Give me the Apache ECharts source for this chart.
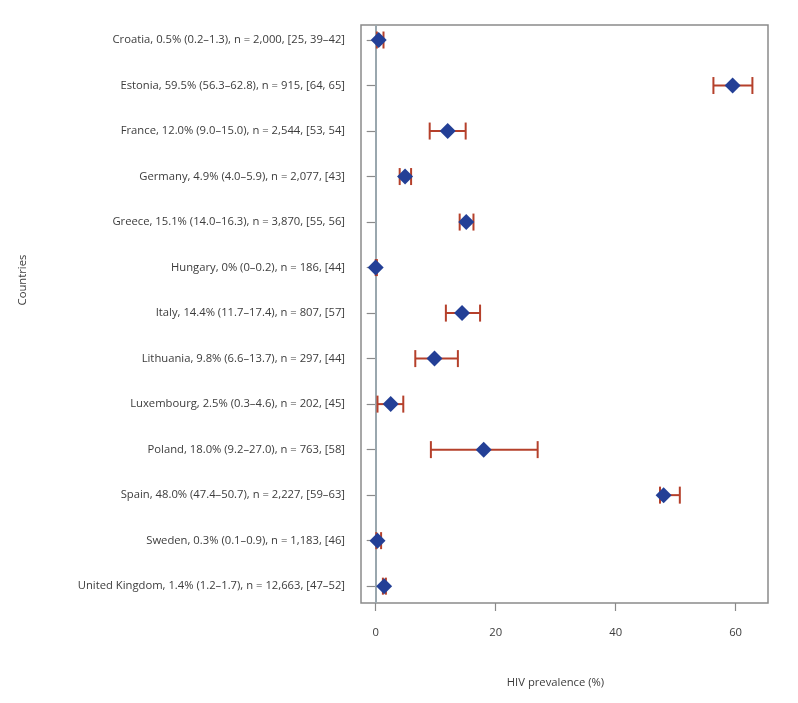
<!DOCTYPE html>
<html>
<head>
<meta charset="utf-8">
<script src="https://cdn.jsdelivr.net/npm/echarts@6/dist/echarts.min.js"></script>
<style>html,body{margin:0;padding:0;background:#fff;}#chart{width:798px;height:703px;}</style>
</head>
<body>
<div id="chart"></div>
<script>
const rowLabels = [
  "Croatia, 0.5% (0.2–1.3), n = 2,000, [25, 39–42]",
  "Estonia, 59.5% (56.3–62.8), n = 915, [64, 65]",
  "France, 12.0% (9.0–15.0), n = 2,544, [53, 54]",
  "Germany, 4.9% (4.0–5.9), n = 2,077, [43]",
  "Greece, 15.1% (14.0–16.3), n = 3,870, [55, 56]",
  "Hungary, 0% (0–0.2), n = 186, [44]",
  "Italy, 14.4% (11.7–17.4), n = 807, [57]",
  "Lithuania, 9.8% (6.6–13.7), n = 297, [44]",
  "Luxembourg, 2.5% (0.3–4.6), n = 202, [45]",
  "Poland, 18.0% (9.2–27.0), n = 763, [58]",
  "Spain, 48.0% (47.4–50.7), n = 2,227, [59–63]",
  "Sweden, 0.3% (0.1–0.9), n = 1,183, [46]",
  "United Kingdom, 1.4% (1.2–1.7), n = 12,663, [47–52]"
];
const prevalence = [0.5, 59.5, 12.0, 4.9, 15.1, 0, 14.4, 9.8, 2.5, 18.0, 48.0, 0.3, 1.4];
const ciLow =      [0.2, 56.3, 9.0, 4.0, 14.0, 0, 11.7, 6.6, 0.3, 9.2, 47.4, 0.1, 1.2];
const ciHigh =     [1.3, 62.8, 15.0, 5.9, 16.3, 0.2, 17.4, 13.7, 4.6, 27.0, 50.7, 0.9, 1.7];
const xTicks = [0, 20, 40, 60];
const rows = rowLabels.map((_, i) => i + 1);

const textColor = '#3c3c3c';
const font = "'Open Sans', sans-serif";

const chart = echarts.init(document.getElementById('chart'), null, {renderer: 'canvas'});
chart.setOption({
  animation: false,
  backgroundColor: '#fff',
  grid: {left: 361, right: 30, top: 25, bottom: 100, show: true, borderColor: '#8a8a8a', borderWidth: 1.5, backgroundColor: 'transparent'},
  xAxis: {
    type: 'value', min: -2.45, max: 65.4,
    name: 'HIV prevalence (%)', nameLocation: 'middle', nameGap: 74,
    nameTextStyle: {color: textColor, fontSize: 11.25, fontFamily: font, padding: [0, 18, 0, 0]},
    axisLine: {show: false},
    splitLine: {show: false},
    axisTick: {show: true, length: 8, customValues: xTicks, lineStyle: {color: '#8a8a8a', width: 1.2}},
    axisLabel: {customValues: xTicks, margin: 24, color: textColor, fontSize: 11.25, fontFamily: font}
  },
  yAxis: {
    type: 'value', inverse: true, min: 0.67, max: 13.37,
    name: 'Countries', nameLocation: 'middle', nameRotate: 90, nameGap: 333,
    nameTextStyle: {color: textColor, fontSize: 11.25, fontFamily: font, padding: [0, 0, 0, 68]},
    axisLine: {show: false},
    splitLine: {show: false},
    axisTick: {show: true, length: 9, customValues: rows, lineStyle: {color: '#8a8a8a', width: 1.2}},
    axisLabel: {customValues: rows, margin: 16, color: textColor, fontSize: 11.25, fontFamily: font,
      formatter: v => rowLabels[Math.round(v) - 1] || ''}
  },
  series: [
    {
      type: 'custom',
      encode: {x: [0, 1], y: 2},
      data: rows.map((r, i) => [ciLow[i], ciHigh[i], r]),
      z: 2,
      renderItem: function (params, api) {
        const y = api.value(2);
        const a = api.coord([api.value(0), y]);
        const b = api.coord([api.value(1), y]);
        const h = 8.5;
        const style = {stroke: '#b5402b', lineWidth: 2};
        return {type: 'group', children: [
          {type: 'line', shape: {x1: a[0], y1: a[1], x2: b[0], y2: b[1]}, style},
          {type: 'line', shape: {x1: a[0], y1: a[1] - h, x2: a[0], y2: a[1] + h}, style},
          {type: 'line', shape: {x1: b[0], y1: b[1] - h, x2: b[0], y2: b[1] + h}, style}
        ]};
      }
    },
    {
      type: 'scatter',
      symbol: 'diamond', symbolSize: 16,
      itemStyle: {color: '#233f96', opacity: 1},
      data: rows.map((r, i) => [prevalence[i], r]),
      z: 3,
      markLine: {
        silent: true, symbol: ['none', 'none'], label: {show: false},
        lineStyle: {color: '#9aa7ae', width: 2, type: 'solid'},
        data: [{xAxis: 0}],
        z: 1
      }
    }
  ]
});
</script>
</body>
</html>
